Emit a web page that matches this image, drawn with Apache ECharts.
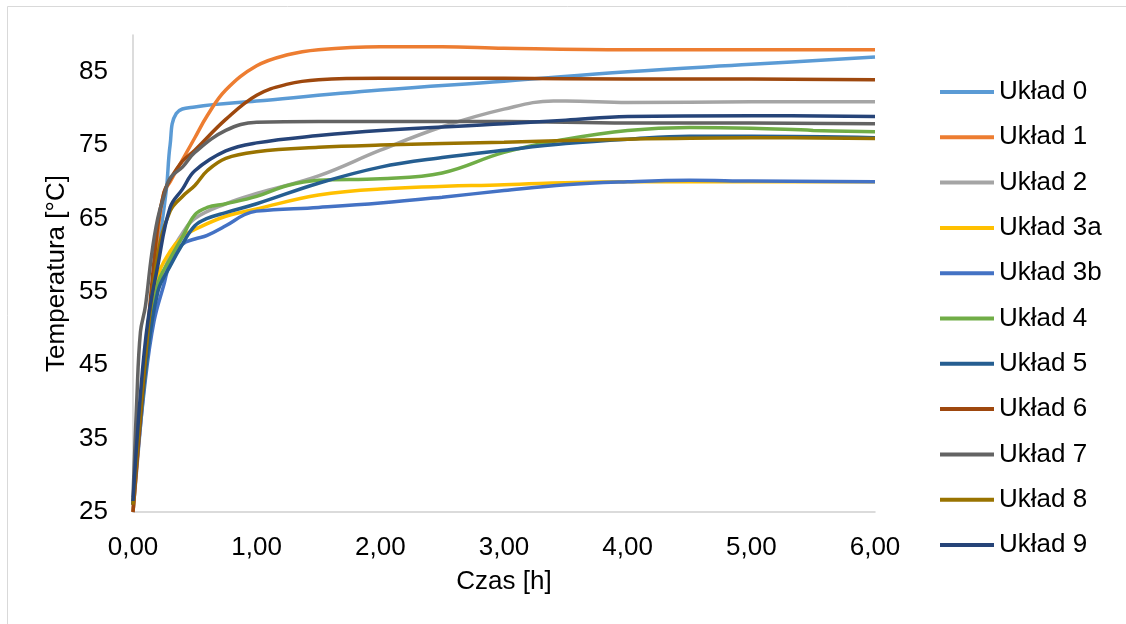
<!DOCTYPE html>
<html>
<head>
<meta charset="utf-8">
<script src="https://cdn.jsdelivr.net/npm/echarts@6/dist/echarts.min.js"></script>
<style>
html,body{margin:0;padding:0;background:#fff;}
#chart{width:1126px;height:624px;}
</style>
</head>
<body>
<div id="chart"></div>
<script>
// Series names and colours
var seriesNames = ['Układ 0','Układ 1','Układ 2','Układ 3a','Układ 3b','Układ 4','Układ 5','Układ 6','Układ 7','Układ 8','Układ 9'];
var seriesColors = ['#5B9BD5','#ED7D31','#A5A5A5','#FFC000','#4472C4','#70AD47','#255E91','#9E480E','#636363','#997300','#264478'];

// Time [h] and temperature [°C] per series
var u0_t = [0,0.1,0.2,0.27,0.3,0.35,0.5,1,2,3,4,5,6];
var u0_v = [25,44,60,69,75,79.3,80.2,81,82.5,83.7,85,86,87];

var u1_t = [0,0.1,0.2,0.25,0.3,0.4,0.5,0.6,0.75,1,1.25,1.5,2,2.5,3,4,5,6];
var u1_v = [25,45,63,68.5,70,73,76,79,82.5,85.8,87.3,88,88.4,88.4,88.2,88,88,88];

var u2_t = [0,0.1,0.2,0.3,0.4,0.5,0.75,1,1.5,2,2.5,3,3.4,3.5,4,5,6];
var u2_v = [26,45,55,60,63,65,67,68.4,70.8,74.3,77.5,79.9,81,81,80.8,80.9,80.9];

var u3a_t = [0,0.1,0.2,0.3,0.4,0.5,0.75,1,1.5,2,3,4,5,6];
var u3a_v = [26,45,57,60.5,62.5,63.5,65.3,66.3,68.2,69,69.6,70,70,70];

var u3b_t = [0,0.1,0.17,0.25,0.3,0.4,0.5,0.6,0.75,0.9,1,1.5,2,2.5,3,3.5,4,4.5,5,6];
var u3b_v = [26,43,51,56,59,61.5,62.2,62.7,64,65.5,66,66.5,67.1,67.9,68.8,69.6,70,70.2,70.1,70];

var u4_t = [0,0.1,0.2,0.3,0.4,0.5,0.6,0.75,1,1.25,1.5,2,2.5,3,3.5,4,4.5,5,5.5,6];
var u4_v = [26,44,56,59.5,62.5,65.5,66.5,67,68,69.5,70.2,70.4,71.2,74,75.8,77,77.4,77.3,77,76.8];

var u5_t = [0,0.1,0.2,0.3,0.4,0.5,0.6,0.75,1,1.5,2,2.5,3,3.5,4,4.5,5,6];
var u5_v = [26,44,55,58.5,61.5,64,65,65.8,67,69.8,72,73.3,74.3,75.2,75.8,76.2,76.2,76];

var u6_t = [0,0.1,0.2,0.25,0.3,0.4,0.5,0.75,1,1.25,1.5,2,3,4,5,6];
var u6_v = [25,46,64,68.5,70.3,72.8,74.3,78.5,81.8,83.3,83.9,84.1,84.1,84,84,83.9];

var u7_t = [0,0.03,0.06,0.1,0.15,0.2,0.25,0.3,0.4,0.5,0.75,1,1.5,2,3,4,5,6];
var u7_v = [27,40,49.5,53,60,65,68,70.5,72,74,77,78.1,78.2,78.2,78.2,78,78,77.9];

var u8_t = [0,0.1,0.2,0.3,0.4,0.5,0.6,0.75,1,1.5,2,3,4,5,6];
var u8_v = [26,46,60,66,68,69.5,71.5,73.2,74.1,74.7,75,75.4,75.8,76,75.9];

var u9_t = [0,0.06,0.12,0.2,0.3,0.4,0.5,0.75,1,1.5,2,3,3.5,4,5,6];
var u9_v = [26.5,41,51,58.5,66.5,69,71.5,74.2,75.3,76.3,77,77.9,78.4,78.9,79,78.9];

var seriesTimes = [u0_t,u1_t,u2_t,u3a_t,u3b_t,u4_t,u5_t,u6_t,u7_t,u8_t,u9_t];
var seriesValues = [u0_v,u1_v,u2_v,u3a_v,u3b_v,u4_v,u5_v,u6_v,u7_v,u8_v,u9_v];

// Axis settings
var xTicks = [0,1,2,3,4,5,6];
var yTicks = [25,35,45,55,65,75,85];
var xName = 'Czas [h]';
var yName = 'Temperatura [°C]';

var FONT = '"Liberation Sans", Arial, sans-serif';
var FS = 26;

function pairs(t, v) {
  var out = [];
  for (var i = 0; i < t.length; i++) out.push([t[i], v[i]]);
  return out;
}

var series = seriesNames.map(function (name, i) {
  return {
    name: name,
    type: 'line',
    data: pairs(seriesTimes[i], seriesValues[i]),
    smooth: 0.4,
    showSymbol: false,
    symbol: 'none',
    lineStyle: { width: 3.5, color: seriesColors[i] },
    itemStyle: { color: seriesColors[i] },
    emphasis: { disabled: true }
  };
});

var chart = echarts.init(document.getElementById('chart'), null, { renderer: 'canvas' });
chart.setOption({
  animation: false,
  backgroundColor: '#ffffff',
  color: seriesColors,
  graphic: [{
    type: 'rect',
    shape: { x: 7.5, y: 6.5, width: 1300, height: 800 },
    style: { fill: 'none', stroke: '#d9d9d9', lineWidth: 1 },
    silent: true
  }],
  grid: { left: 133, right: 251, top: 35, bottom: 112, containLabel: false },
  legend: {
    orient: 'vertical',
    left: 935,
    top: 74,
    itemWidth: 54,
    itemHeight: 4,
    itemGap: 19.3,
    icon: 'rect',
    textStyle: { fontFamily: FONT, fontSize: FS, color: '#000', lineHeight: 26 },
    data: seriesNames
  },
  xAxis: {
    type: 'value',
    min: xTicks[0],
    max: xTicks[xTicks.length - 1],
    interval: 1,
    name: xName,
    nameLocation: 'middle',
    nameGap: 57,
    nameMoveOverlap: false,
    nameTextStyle: { fontFamily: FONT, fontSize: FS, color: '#000' },
    axisLine: { show: true, lineStyle: { color: '#d0d0d0', width: 1.5 } },
    axisTick: { show: false },
    splitLine: { show: false },
    axisLabel: {
      fontFamily: FONT, fontSize: FS, color: '#000', margin: 23,
      formatter: function (v) { return v.toFixed(2).replace('.', ','); }
    }
  },
  yAxis: {
    type: 'value',
    min: yTicks[0],
    max: 90,
    interval: 10,
    name: yName,
    nameLocation: 'middle',
    nameGap: 63,
    nameMoveOverlap: false,
    nameRotate: 90,
    nameTextStyle: { fontFamily: FONT, fontSize: FS, color: '#000' },
    axisLine: { show: true, lineStyle: { color: '#d0d0d0', width: 1.5 } },
    axisTick: { show: false },
    splitLine: { show: false },
    axisLabel: {
      fontFamily: FONT, fontSize: FS, color: '#000', margin: 25,
      showMaxLabel: false
    }
  },
  series: series
});
</script>
</body>
</html>
